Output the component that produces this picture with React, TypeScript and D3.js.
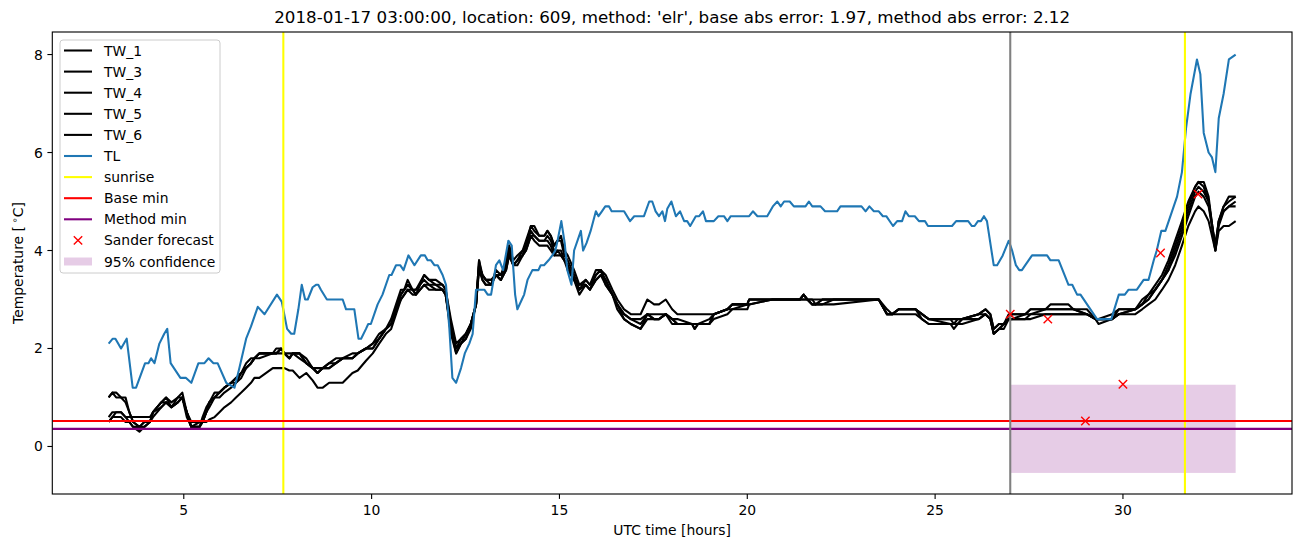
import React from "react";
import * as d3 from "d3";

// ---------------- DATA ----------------
const tlHours = [
  3.0, 3.11, 3.18, 3.33, 3.48, 3.64, 3.73, 3.97, 4.06, 4.13, 4.22, 4.35, 4.48, 4.56, 4.65, 4.91, 5.06, 5.2, 5.39, 5.55,
  5.66, 5.79, 5.9, 6.13, 6.35, 6.48, 6.66, 6.79, 6.97, 7.15, 7.48, 7.61, 7.75, 7.86, 7.94, 8.05, 8.14, 8.23, 8.3, 8.43,
  8.52, 8.58, 8.65, 8.81, 9.23, 9.32, 9.54, 9.65, 9.72, 9.85, 9.91, 9.98, 10.16, 10.29, 10.47, 10.53, 10.65, 10.76, 10.85, 10.98,
  11.14, 11.31, 11.42, 11.49, 11.58, 11.67, 11.76, 11.89, 11.98, 12.07, 12.15, 12.25, 12.38, 12.48, 12.6, 12.69, 12.78, 13.0, 13.09, 13.18,
  13.31, 13.4, 13.5, 13.64, 13.73, 13.82, 13.88, 14.0, 14.06, 14.15, 14.28, 14.44, 14.5, 14.59, 14.71, 14.81, 14.89, 14.95, 15.05, 15.14,
  15.21, 15.32, 15.39, 15.57, 15.63, 15.72, 15.83, 15.97, 16.04, 16.13, 16.22, 16.32, 16.39, 16.72, 16.88, 16.99, 17.25, 17.39, 17.47, 17.56,
  17.65, 17.74, 17.81, 17.87, 17.98, 18.1, 18.21, 18.32, 18.4, 18.48, 18.63, 18.72, 18.82, 18.9, 19.11, 19.23, 19.38, 19.47, 19.56, 20.05,
  20.15, 20.27, 20.53, 20.68, 20.8, 20.89, 20.98, 21.13, 21.24, 21.55, 21.64, 21.73, 21.95, 22.07, 22.39, 22.48, 23.04, 23.15, 23.25, 23.37,
  23.5, 23.61, 23.7, 23.88, 23.99, 24.12, 24.21, 24.3, 24.46, 24.57, 24.73, 24.81, 25.45, 25.56, 25.88, 25.98, 26.05, 26.14, 26.22, 26.3,
  26.38, 26.56, 26.65, 26.8, 26.96, 27.05, 27.15, 27.24, 27.31, 27.4, 27.58, 27.98, 28.07, 28.29, 28.55, 28.65, 28.78, 28.87, 29.31, 29.69,
  29.89, 30.05, 30.15, 30.37, 30.55, 30.68, 30.82, 30.9, 31.02, 31.13, 31.44, 31.57, 31.68, 31.8, 31.97, 32.06, 32.15, 32.28, 32.37, 32.46,
  32.55, 32.68, 32.82, 33.0,
];
const tlValues = [
  2.1, 2.2, 2.2, 2.0, 2.2, 1.2, 1.2, 1.7, 1.7, 1.8, 1.7, 2.1, 2.3, 2.4, 1.7, 1.4, 1.4, 1.3, 1.7, 1.7,
  1.8, 1.7, 1.7, 1.3, 1.2, 1.6, 2.2, 2.45, 2.85, 2.7, 3.1, 2.95, 2.4, 2.3, 2.3, 2.8, 3.3, 3.0, 3.0, 3.25,
  3.3, 3.3, 3.2, 3.0, 3.0, 2.8, 2.8, 2.2, 2.2, 2.4, 2.5, 2.5, 2.9, 3.1, 3.5, 3.5, 3.7, 3.7, 3.6, 3.9,
  3.7, 3.9, 3.9, 3.8, 3.8, 3.7, 3.7, 3.5, 3.3, 2.4, 1.4, 1.3, 1.6, 1.9, 2.1, 2.3, 3.2, 3.2, 3.1, 3.1,
  3.7, 3.8, 3.6, 4.2, 4.1, 3.1, 2.8, 3.0, 3.1, 3.4, 3.6, 3.6, 3.7, 3.7, 3.8, 3.9, 4.0, 4.2, 4.6, 4.15,
  3.6, 3.3, 4.0, 4.4, 4.0, 4.15, 4.4, 4.8, 4.7, 4.8, 4.9, 4.9, 4.8, 4.8, 4.6, 4.7, 4.7, 5.0, 5.0, 4.8,
  4.7, 4.8, 4.6, 4.85, 5.0, 4.7, 4.8, 4.6, 4.6, 4.5, 4.7, 4.7, 4.8, 4.6, 4.6, 4.7, 4.7, 4.6, 4.7, 4.7,
  4.8, 4.7, 4.7, 4.9, 5.0, 4.9, 5.0, 5.0, 4.9, 4.9, 5.0, 4.9, 4.9, 4.8, 4.8, 4.9, 4.9, 4.8, 4.9, 4.8,
  4.8, 4.7, 4.7, 4.5, 4.6, 4.6, 4.8, 4.7, 4.7, 4.6, 4.6, 4.5, 4.5, 4.6, 4.6, 4.5, 4.5, 4.6, 4.6, 4.7,
  4.6, 3.7, 3.7, 3.9, 4.2, 4.0, 3.7, 3.6, 3.6, 3.7, 3.9, 3.9, 3.8, 3.8, 3.3, 3.3, 3.1, 3.1, 2.6, 2.6,
  3.1, 3.1, 3.2, 3.2, 3.4, 3.4, 3.8, 4.0, 4.4, 4.4, 5.1, 5.6, 6.5, 7.2, 7.9, 7.6, 6.4, 6.0, 5.9, 5.6,
  6.7, 7.2, 7.9, 8.0,
];

const twHours = [
  3.0, 3.1, 3.2, 3.33, 3.45, 3.55, 3.65, 3.82, 3.95, 4.1,
  4.18, 4.4, 4.53, 4.67, 4.84, 4.96, 5.08, 5.2, 5.42, 5.5,
  5.6, 5.68, 5.82, 5.95, 6.08, 6.26, 6.39, 6.53, 6.66, 6.79,
  6.88, 7.01, 7.37, 7.46, 7.59, 7.68, 7.81, 7.9, 8.08, 8.26,
  8.43, 8.56, 8.7, 8.87, 9.05, 9.23, 9.49, 9.63, 9.85, 10.03,
  10.2, 10.38, 10.52, 10.65, 10.78, 10.87, 10.96, 11.09, 11.18, 11.4,
  11.53, 11.71, 11.89, 11.97, 12.11, 12.25, 12.38, 12.51, 12.64, 12.78,
  12.86, 12.95, 13.04, 13.18, 13.31, 13.44, 13.58, 13.66, 13.77, 13.88,
  14.02, 14.11, 14.24, 14.33, 14.46, 14.6, 14.68, 14.77, 14.86, 14.95,
  15.04, 15.13, 15.22, 15.39, 15.53, 15.7, 15.81, 15.97, 16.1, 16.23,
  16.41, 16.54, 16.72, 16.9, 17.16, 17.34, 17.52, 17.65, 17.83, 18.0,
  18.14, 18.53, 18.6, 18.69, 18.99, 19.11, 19.47, 19.6, 20.0, 20.05,
  20.67, 21.4, 21.5, 21.6, 21.73, 21.82, 22.0, 22.3, 23.5, 23.72,
  23.86, 24.03, 24.48, 24.65, 24.83, 25.41, 25.5, 25.6, 25.72, 26.16,
  26.34, 26.47, 26.56, 26.7, 26.83, 26.96, 27.05, 27.4, 27.54, 27.94,
  28.07, 28.55, 28.68, 29.04, 29.27, 29.35, 29.71, 29.89, 30.33, 30.51,
  30.68, 30.86, 31.04, 31.21, 31.39, 31.57, 31.74, 31.92, 32.01, 32.15,
  32.28, 32.46, 32.55, 32.68, 32.82, 33.0,
];
const tw1 = [
  1.0, 1.1, 1.1, 1.0, 1.0, 0.7, 0.5, 0.4, 0.4, 0.5,
  0.7, 0.9, 1.0, 0.8, 1.0, 1.1, 0.7, 0.4, 0.4, 0.6,
  0.8, 0.9, 1.1, 1.1, 1.2, 1.3, 1.4, 1.5, 1.7, 1.8,
  1.8, 1.9, 1.9, 2.0, 2.0, 1.9, 1.8, 1.9, 1.9, 1.7,
  1.6, 1.5, 1.6, 1.6, 1.7, 1.8, 1.8, 1.9, 2.0, 2.1,
  2.2, 2.4, 2.5, 2.8, 3.1, 3.2, 3.3, 3.2, 3.2, 3.5,
  3.4, 3.4, 3.3, 3.2, 2.5, 2.0, 2.1, 2.3, 2.5, 2.9,
  3.7, 3.5, 3.4, 3.4, 3.5, 3.5, 3.7, 4.1, 3.7, 3.8,
  3.9, 4.1, 4.5, 4.5, 4.3, 4.3, 4.4, 4.3, 4.1, 4.2,
  4.2, 3.9, 3.8, 3.5, 3.2, 3.4, 3.3, 3.5, 3.6, 3.4,
  3.1, 2.9, 2.7, 2.6, 2.6, 2.7, 2.7, 2.7, 2.7, 2.6,
  2.6, 2.5, 2.5, 2.5, 2.6, 2.7, 2.8, 2.9, 2.9, 3.0,
  3.0, 3.0, 3.1, 3.0, 3.0, 2.9, 3.0, 3.0, 3.0, 2.7,
  2.7, 2.8, 2.8, 2.7, 2.6, 2.6, 2.5, 2.6, 2.6, 2.7,
  2.8, 2.7, 2.4, 2.5, 2.5, 2.6, 2.7, 2.7, 2.8, 2.8,
  2.9, 2.9, 2.8, 2.8, 2.6, 2.5, 2.6, 2.8, 2.8, 2.9,
  3.1, 3.3, 3.5, 3.8, 4.2, 4.6, 5.0, 5.3, 5.4, 5.4,
  5.1, 4.0, 4.6, 4.9, 5.1, 5.1,
];
const tw3 = [
  1.0, 1.1, 1.0, 1.0, 0.9, 0.7, 0.5, 0.4, 0.5, 0.5,
  0.7, 0.9, 0.9, 0.8, 0.9, 1.0, 0.7, 0.4, 0.5, 0.5,
  0.7, 0.9, 1.0, 1.1, 1.2, 1.3, 1.3, 1.5, 1.6, 1.7,
  1.8, 1.9, 1.9, 1.9, 2.0, 1.9, 1.8, 1.9, 1.9, 1.8,
  1.6, 1.5, 1.6, 1.7, 1.7, 1.8, 1.8, 1.9, 2.0, 2.0,
  2.2, 2.4, 2.5, 2.8, 3.0, 3.1, 3.2, 3.1, 3.1, 3.3,
  3.2, 3.2, 3.2, 3.1, 2.3, 1.9, 2.1, 2.2, 2.4, 2.9,
  3.8, 3.4, 3.3, 3.3, 3.5, 3.4, 3.7, 4.0, 3.7, 3.8,
  4.0, 4.1, 4.4, 4.3, 4.2, 4.2, 4.3, 4.2, 4.0, 4.0,
  4.0, 3.8, 3.7, 3.4, 3.2, 3.3, 3.2, 3.4, 3.5, 3.4,
  3.1, 2.9, 2.7, 2.6, 2.5, 2.7, 2.6, 2.6, 2.7, 2.6,
  2.5, 2.5, 2.4, 2.5, 2.5, 2.7, 2.8, 2.8, 2.9, 2.9,
  3.0, 3.0, 3.0, 3.0, 2.9, 2.9, 2.9, 3.0, 3.0, 2.7,
  2.7, 2.8, 2.8, 2.7, 2.6, 2.5, 2.5, 2.5, 2.6, 2.7,
  2.7, 2.6, 2.3, 2.4, 2.5, 2.6, 2.6, 2.7, 2.7, 2.8,
  2.8, 2.8, 2.8, 2.7, 2.6, 2.6, 2.7, 2.8, 2.8, 3.0,
  3.1, 3.2, 3.4, 3.7, 4.1, 4.5, 4.9, 5.3, 5.4, 5.3,
  5.0, 4.1, 4.6, 4.9, 5.0, 5.1,
];
const tw4 = [
  0.5, 0.6, 0.7, 0.7, 0.6, 0.6, 0.6, 0.6, 0.6, 0.6,
  0.7, 0.8, 0.9, 0.8, 0.9, 1.0, 0.7, 0.5, 0.5, 0.5,
  0.5, 0.55, 0.6, 0.7, 0.8, 0.9, 1.0, 1.1, 1.2, 1.3,
  1.4, 1.4, 1.6, 1.6, 1.6, 1.6, 1.55, 1.55, 1.4, 1.5,
  1.35, 1.2, 1.2, 1.3, 1.3, 1.3, 1.5, 1.55, 1.75, 1.9,
  2.1, 2.3, 2.4, 2.7, 3.0, 3.1, 3.2, 3.2, 3.1, 3.3,
  3.3, 3.2, 3.2, 3.1, 2.4, 1.9, 2.1, 2.2, 2.5, 2.9,
  3.6, 3.4, 3.3, 3.3, 3.5, 3.4, 3.6, 3.9, 3.7, 3.7,
  3.9, 4.0, 4.3, 4.3, 4.2, 4.2, 4.2, 4.1, 3.9, 4.0,
  3.9, 3.8, 3.7, 3.4, 3.3, 3.3, 3.2, 3.4, 3.5, 3.3,
  3.1, 2.9, 2.6, 2.5, 2.4, 2.6, 2.6, 2.6, 2.7, 2.5,
  2.5, 2.5, 2.4, 2.5, 2.5, 2.6, 2.7, 2.8, 2.8, 2.9,
  3.0, 3.0, 3.0, 3.0, 2.9, 2.9, 2.9, 2.9, 3.0, 2.7,
  2.7, 2.7, 2.7, 2.6, 2.5, 2.5, 2.4, 2.5, 2.5, 2.6,
  2.7, 2.6, 2.3, 2.4, 2.4, 2.6, 2.6, 2.6, 2.7, 2.7,
  2.7, 2.7, 2.7, 2.7, 2.6, 2.6, 2.6, 2.7, 2.8, 2.9,
  3.0, 3.2, 3.4, 3.6, 4.0, 4.4, 4.8, 5.2, 5.3, 5.2,
  5.0, 4.0, 4.5, 4.8, 4.9, 5.0,
];
const tw5 = [
  0.6, 0.7, 0.7, 0.7, 0.6, 0.5, 0.4, 0.3, 0.4, 0.5,
  0.7, 0.9, 1.0, 0.9, 1.0, 1.0, 0.6, 0.4, 0.4, 0.5,
  0.7, 0.9, 1.0, 1.1, 1.2, 1.3, 1.4, 1.5, 1.6, 1.7,
  1.8, 1.9, 1.9, 1.9, 1.9, 1.9, 1.8, 1.9, 1.8, 1.7,
  1.6, 1.5, 1.6, 1.6, 1.7, 1.8, 1.8, 1.9, 2.0, 2.0,
  2.2, 2.4, 2.5, 2.8, 3.1, 3.2, 3.3, 3.2, 3.2, 3.4,
  3.3, 3.3, 3.2, 3.1, 2.4, 2.0, 2.2, 2.3, 2.5, 2.9,
  3.7, 3.5, 3.4, 3.3, 3.6, 3.5, 3.8, 4.1, 3.8, 3.9,
  4.0, 4.2, 4.5, 4.4, 4.3, 4.3, 4.4, 4.3, 4.1, 4.2,
  4.3, 4.0, 3.9, 3.6, 3.3, 3.4, 3.3, 3.6, 3.6, 3.5,
  3.2, 3.0, 2.8, 2.7, 2.7, 3.0, 2.9, 2.9, 3.0, 2.8,
  2.7, 2.7, 2.7, 2.7, 2.7, 2.7, 2.8, 2.9, 2.9, 3.0,
  3.0, 3.0, 3.1, 3.0, 3.0, 3.0, 3.0, 3.0, 3.0, 2.8,
  2.7, 2.8, 2.8, 2.7, 2.6, 2.6, 2.6, 2.6, 2.6, 2.7,
  2.8, 2.7, 2.4, 2.5, 2.5, 2.7, 2.7, 2.7, 2.8, 2.8,
  2.8, 2.8, 2.8, 2.7, 2.6, 2.6, 2.6, 2.7, 2.8, 2.9,
  3.0, 3.2, 3.4, 3.6, 3.9, 4.3, 4.7, 5.1, 5.2, 5.1,
  4.9, 4.1, 4.6, 4.8, 4.9, 4.9,
];
const tw6 = [
  0.5, 0.6, 0.6, 0.6, 0.5, 0.5, 0.4, 0.4, 0.5, 0.5,
  0.6, 0.8, 0.9, 0.8, 0.9, 1.0, 0.7, 0.4, 0.4, 0.5,
  0.7, 0.8, 1.0, 1.0, 1.1, 1.2, 1.3, 1.4, 1.6, 1.7,
  1.8, 1.8, 1.9, 1.9, 2.0, 1.9, 1.9, 1.9, 1.9, 1.7,
  1.6, 1.6, 1.6, 1.7, 1.8, 1.8, 1.9, 1.9, 2.0, 2.1,
  2.3, 2.4, 2.6, 2.9, 3.2, 3.2, 3.4, 3.2, 3.1, 3.5,
  3.4, 3.3, 3.3, 3.2, 2.6, 2.1, 2.2, 2.3, 2.5, 2.9,
  3.8, 3.5, 3.4, 3.4, 3.5, 3.4, 3.6, 3.9, 3.7, 3.8,
  3.9, 4.0, 4.3, 4.2, 4.1, 4.1, 4.1, 4.0, 3.9, 3.9,
  3.9, 3.8, 3.6, 3.4, 3.1, 3.3, 3.2, 3.5, 3.6, 3.3,
  3.1, 2.8, 2.6, 2.5, 2.4, 2.7, 2.6, 2.6, 2.7, 2.6,
  2.5, 2.5, 2.5, 2.5, 2.5, 2.7, 2.8, 2.9, 2.9, 3.0,
  3.0, 3.0, 3.1, 3.0, 2.9, 2.9, 3.0, 3.0, 3.0, 2.7,
  2.7, 2.8, 2.8, 2.6, 2.5, 2.5, 2.5, 2.5, 2.6, 2.6,
  2.7, 2.6, 2.3, 2.4, 2.5, 2.6, 2.6, 2.6, 2.6, 2.7,
  2.7, 2.7, 2.7, 2.7, 2.6, 2.6, 2.6, 2.7, 2.7, 2.8,
  2.9, 3.0, 3.2, 3.4, 3.7, 4.1, 4.5, 4.8, 4.9, 4.8,
  4.6, 4.0, 4.4, 4.5, 4.5, 4.6,
];

const twSeriesNames = ["TW_1", "TW_3", "TW_4", "TW_5", "TW_6"];
const twSeriesValues = [tw1, tw3, tw4, tw5, tw6];

const sunriseHours = [7.65, 31.65];
const forecastHour = 27;
const baseMin = 0.52;
const methodMin = 0.36;
const sanderHours = [27, 28, 29, 30, 31, 32];
const sanderValues = [2.7, 2.6, 0.52, 1.27, 3.95, 5.15];
const confidenceHours = [27, 33];
const confidenceLower = -0.54;
const confidenceUpper = 1.26;

const xTicks = [5, 10, 15, 20, 25, 30];
const yTicks = [0, 2, 4, 6, 8];

const legendLabels = [
  "TW_1", "TW_3", "TW_4", "TW_5", "TW_6", "TL", "sunrise", "Base min", "Method min", "Sander forecast", "95% confidence",
];

const titleText =
  "2018-01-17 03:00:00, location: 609, method: 'elr', base abs error: 1.97, method abs error: 2.12";

// ---------------- LAYOUT ----------------
const W = 1302;
const H = 547;
const L = 52.3;
const R = 1292;
const T = 32;
const B = 494;
const FONT = "DejaVu Sans, sans-serif";
const LW = 2.08;
const MS = 4.2;

export default function App() {
  const x = d3.scaleLinear().domain([1.5, 34.5]).range([L, R]);
  const y = d3.scaleLinear().domain([-0.97, 8.46]).range([B, T]);

  const line = d3
    .line<[number, number]>()
    .x((d) => x(d[0]))
    .y((d) => y(d[1]));

  const tlPts: [number, number][] = tlHours
    .slice(0, Math.min(tlHours.length, tlValues.length))
    .map((h, i) => [h, tlValues[i]]);

  const twPaths = twSeriesValues.map((vals) => {
    const n = Math.min(twHours.length, vals.length);
    const pts: [number, number][] = twHours.slice(0, n).map((h, i) => [h, vals[i]]);
    return line(pts) || "";
  });

  const legendX = 60;
  const legendY = 40;
  const rowH = 21.1;
  const firstRow = 50.5;

  const xMarker = (cx: number, cy: number) =>
    `M${cx - MS},${cy - MS}L${cx + MS},${cy + MS}M${cx - MS},${cy + MS}L${cx + MS},${cy - MS}`;

  const legendHandle = (label: string, i: number) => {
    const cy = firstRow + i * rowH;
    let handle: React.ReactNode = null;
    const colorFor: Record<string, string> = {
      TL: "#1f77b4",
      sunrise: "#ffff00",
      "Base min": "red",
      "Method min": "purple",
    };
    if (label.startsWith("TW_") || colorFor[label]) {
      handle = (
        <line x1={64} x2={92} y1={cy} y2={cy} stroke={colorFor[label] || "black"} strokeWidth={LW} />
      );
    } else if (label === "Sander forecast") {
      handle = <path d={xMarker(78, cy)} stroke="red" strokeWidth={1.39} />;
    } else {
      handle = <rect x={64} y={cy - 4} width={28} height={8} fill="purple" fillOpacity={0.2} />;
    }
    return (
      <g key={label}>
        {handle}
        <text x={104} y={cy + 5} fontSize={13.9} fontFamily={FONT} fill="black">
          {label}
        </text>
      </g>
    );
  };

  return (
    <svg
      width={W}
      height={H}
      style={{ position: "absolute", left: 0, top: 0, background: "white" }}
      xmlns="http://www.w3.org/2000/svg"
    >
      <rect x={0} y={0} width={W} height={H} fill="white" />
      <defs>
        <clipPath id="plotClip">
          <rect x={L} y={T} width={R - L} height={B - T} />
        </clipPath>
      </defs>

      <g clipPath="url(#plotClip)">
        <rect
          x={x(confidenceHours[0])}
          y={y(confidenceUpper)}
          width={x(confidenceHours[1]) - x(confidenceHours[0])}
          height={y(confidenceLower) - y(confidenceUpper)}
          fill="purple"
          fillOpacity={0.2}
        />
        {twPaths.map((d, i) => (
          <path key={twSeriesNames[i]} d={d} fill="none" stroke="black" strokeWidth={LW} strokeLinejoin="round" strokeLinecap="butt" />
        ))}
        <path d={line(tlPts) || ""} fill="none" stroke="#1f77b4" strokeWidth={LW} strokeLinejoin="round" />
        {sunriseHours.map((h) => (
          <line key={h} x1={x(h)} x2={x(h)} y1={T} y2={B} stroke="#ffff00" strokeWidth={LW} />
        ))}
        <line x1={L} x2={R} y1={y(baseMin)} y2={y(baseMin)} stroke="red" strokeWidth={LW} />
        <line x1={L} x2={R} y1={y(methodMin)} y2={y(methodMin)} stroke="purple" strokeWidth={LW} />
        <line x1={x(forecastHour)} x2={x(forecastHour)} y1={T} y2={B} stroke="gray" strokeWidth={LW} />
        {sanderHours.map((h, i) => (
          <path key={h} d={xMarker(x(h), y(sanderValues[i]))} stroke="red" strokeWidth={1.39} />
        ))}
      </g>

      <rect x={L} y={T} width={R - L} height={B - T} fill="none" stroke="black" strokeWidth={1.11} />

      {xTicks.map((t) => (
        <g key={`x${t}`}>
          <line x1={x(t)} x2={x(t)} y1={B} y2={B + 4.9} stroke="black" strokeWidth={1.11} />
          <text x={x(t)} y={B + 21} fontSize={13.9} fontFamily={FONT} textAnchor="middle" fill="black">
            {t}
          </text>
        </g>
      ))}
      {yTicks.map((t) => (
        <g key={`y${t}`}>
          <line x1={L - 4.9} x2={L} y1={y(t)} y2={y(t)} stroke="black" strokeWidth={1.11} />
          <text x={L - 9.5} y={y(t) + 5} fontSize={13.9} fontFamily={FONT} textAnchor="end" fill="black">
            {t}
          </text>
        </g>
      ))}

      <text x={(L + R) / 2} y={535} fontSize={13.9} fontFamily={FONT} textAnchor="middle" fill="black">
        UTC time [hours]
      </text>
      <text
        transform={`translate(23,${(T + B) / 2}) rotate(-90)`}
        fontSize={13.9}
        fontFamily={FONT}
        textAnchor="middle"
        fill="black"
      >
        {"Temperature [\u2009"}
        <tspan dy={-5} fontSize={9.7}>
          ∘
        </tspan>
        <tspan dy={5}>C]</tspan>
      </text>

      <text x={(L + R) / 2} y={23} fontSize={16.7} fontFamily={FONT} textAnchor="middle" fill="black">
        {titleText}
      </text>

      <rect
        x={legendX}
        y={legendY}
        width={160}
        height={233}
        rx={3}
        fill="white"
        fillOpacity={0.8}
        stroke="#cccccc"
        strokeWidth={1}
      />
      {legendLabels.map((lab, i) => legendHandle(lab, i))}
    </svg>
  );
}
